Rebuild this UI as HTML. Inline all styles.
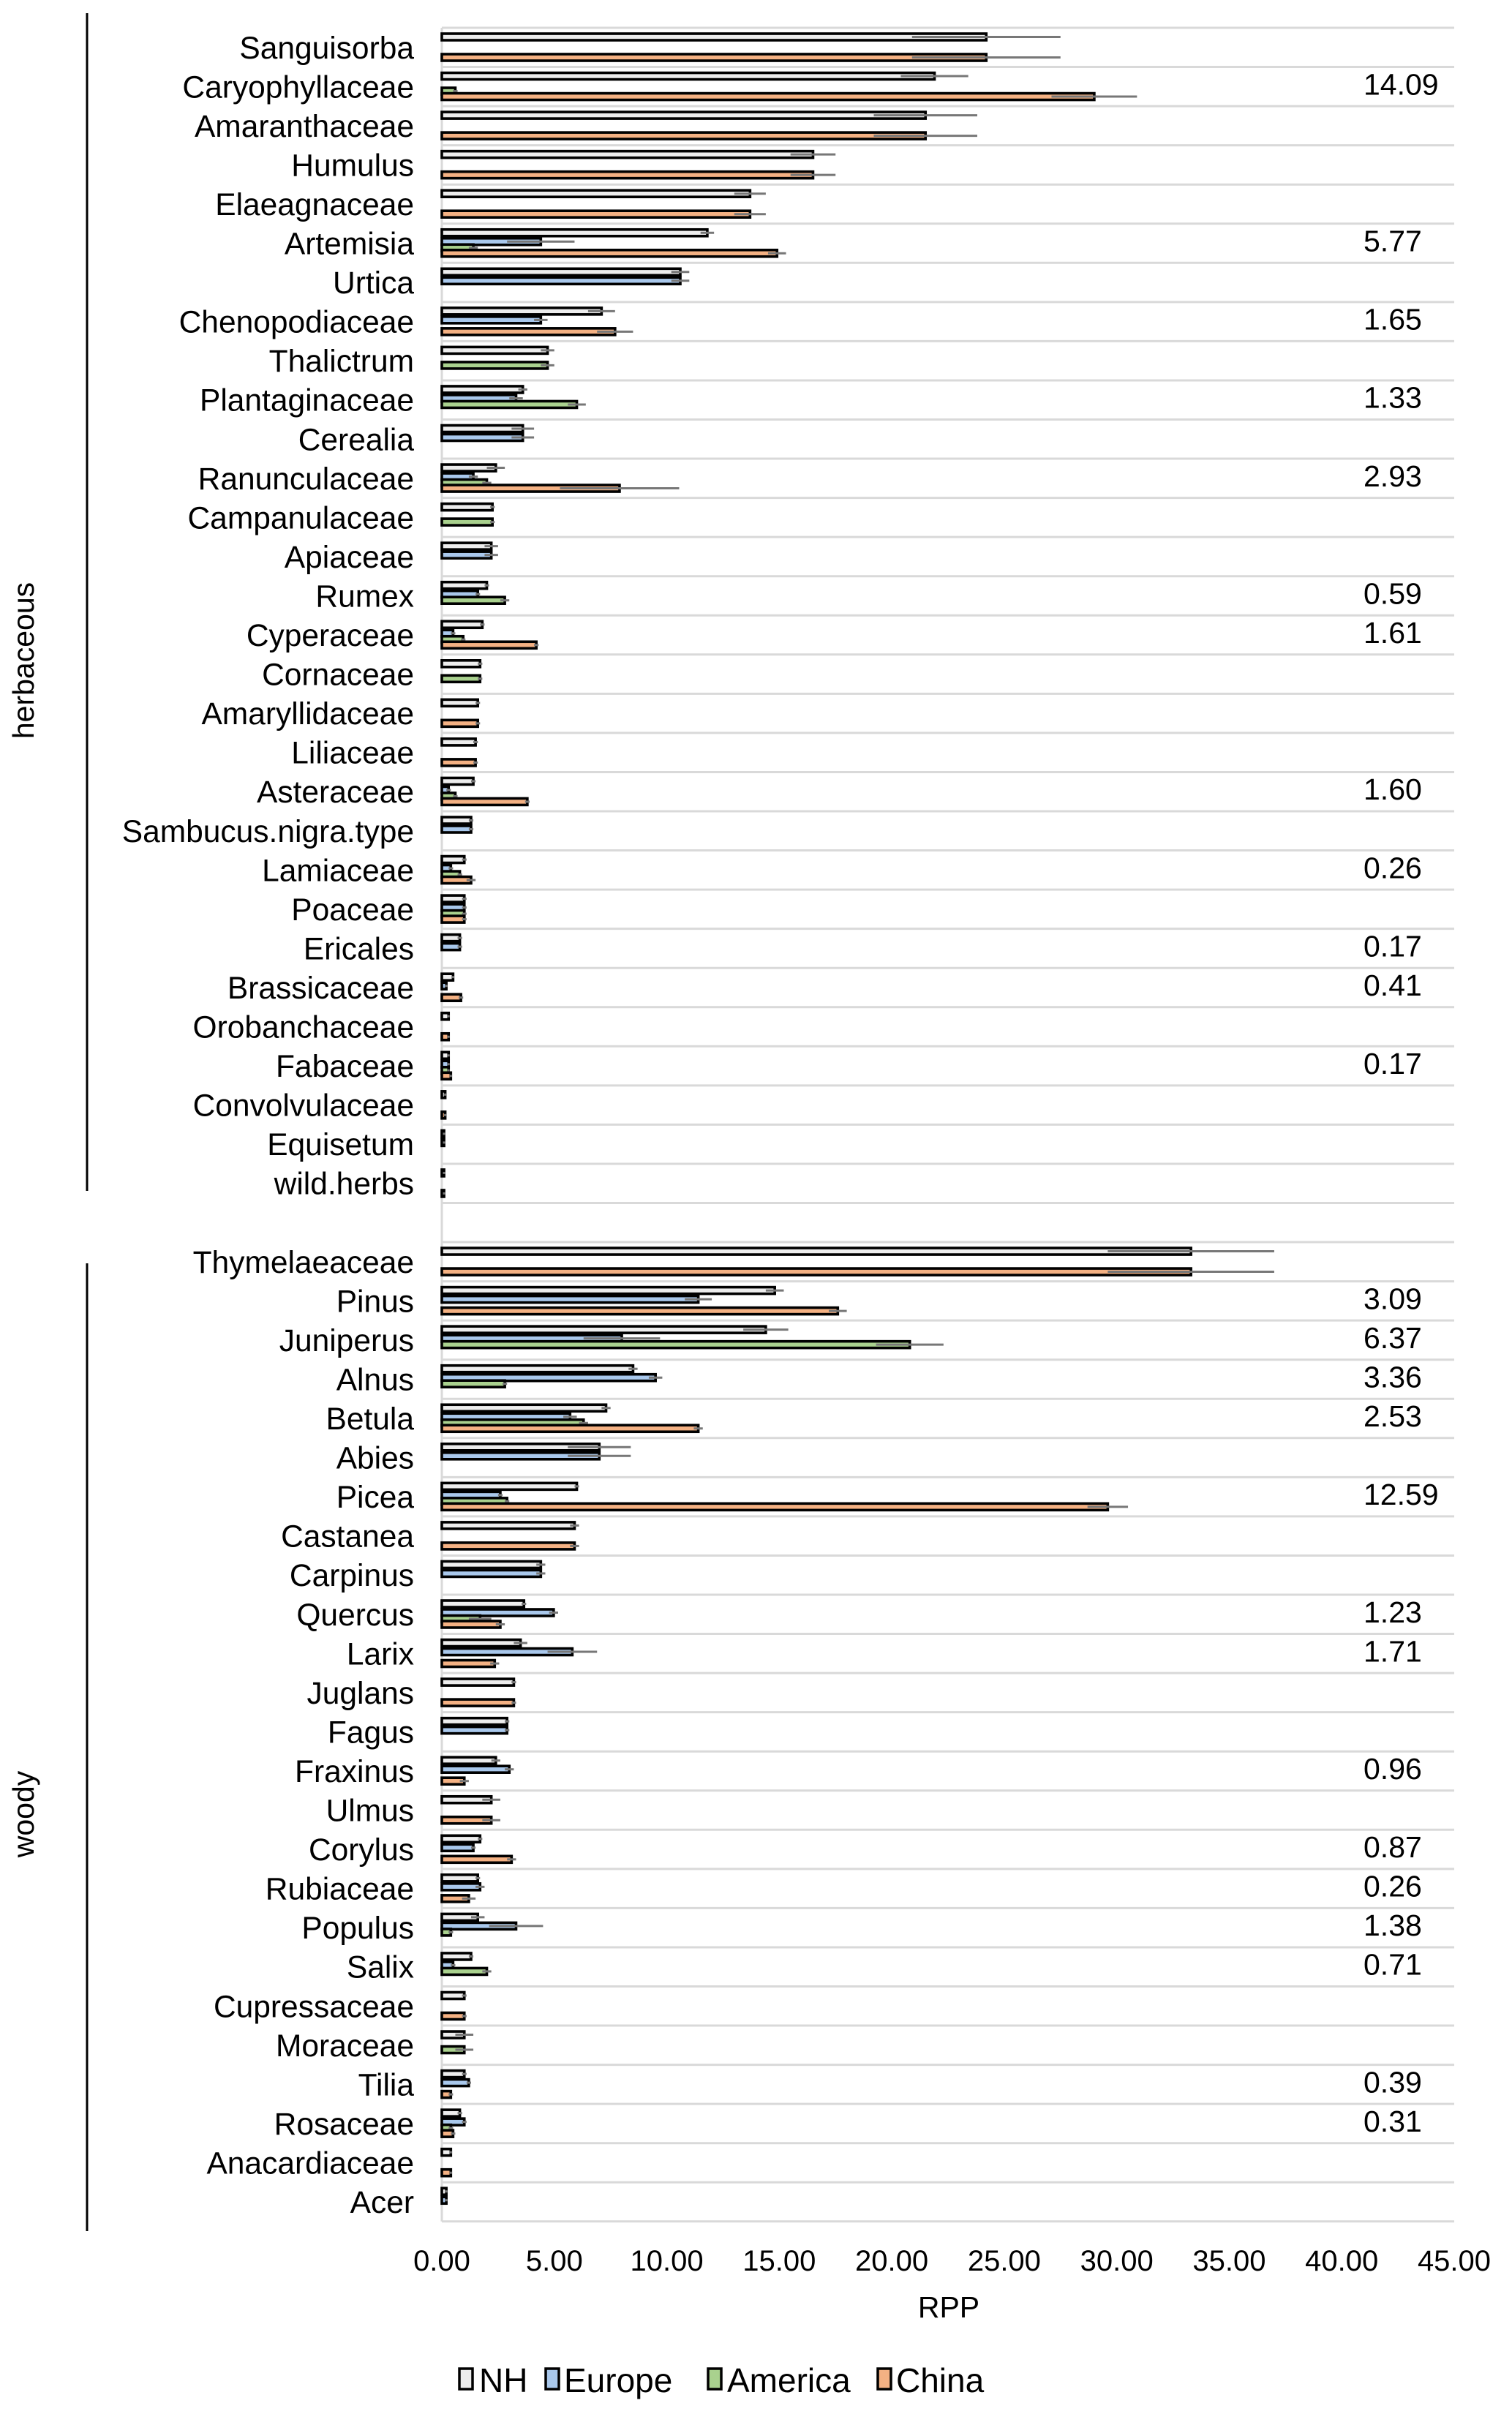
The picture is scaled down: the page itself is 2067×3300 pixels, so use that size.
<!DOCTYPE html>
<html><head><meta charset="utf-8">
<style>
html,body{margin:0;padding:0;background:#fff;}
svg{display:block;font-family:"Liberation Sans",Arial,sans-serif;}
</style></head>
<body>
<svg id="chart" width="2067" height="3300" viewBox="0 0 2067 3300" xmlns="http://www.w3.org/2000/svg"></svg>
<script>
const categories = ["Sanguisorba","Caryophyllaceae","Amaranthaceae","Humulus","Elaeagnaceae","Artemisia","Urtica","Chenopodiaceae","Thalictrum","Plantaginaceae","Cerealia","Ranunculaceae","Campanulaceae","Apiaceae","Rumex","Cyperaceae","Cornaceae","Amaryllidaceae","Liliaceae","Asteraceae","Sambucus.nigra.type","Lamiaceae","Poaceae","Ericales","Brassicaceae","Orobanchaceae","Fabaceae","Convolvulaceae","Equisetum","wild.herbs","",
"Thymelaeaceae","Pinus","Juniperus","Alnus","Betula","Abies","Picea","Castanea","Carpinus","Quercus","Larix","Juglans","Fagus","Fraxinus","Ulmus","Corylus","Rubiaceae","Populus","Salix","Cupressaceae","Moraceae","Tilia","Rosaceae","Anacardiaceae","Acer"];
const nhValues = [24.2,21.9,21.5,16.5,13.7,11.8,10.6,7.1,4.7,3.6,3.6,2.4,2.25,2.2,2.0,1.8,1.7,1.6,1.5,1.4,1.3,1.0,1.0,0.8,0.5,0.3,0.3,0.15,0.1,0.1,null,
33.3,14.8,14.4,8.5,7.3,7.0,6.0,5.9,4.4,3.65,3.5,3.2,2.9,2.4,2.2,1.7,1.6,1.6,1.3,1.0,1.0,1.0,0.8,0.4,0.2];
const europeValues = [null,null,null,null,null,4.4,10.6,4.4,null,3.3,3.6,1.4,null,2.2,1.6,0.5,null,null,null,0.3,1.3,0.4,1.0,0.8,0.2,null,0.3,null,0.1,null,null,
null,11.4,8.0,9.5,5.7,7.0,2.6,null,4.4,4.97,5.8,null,2.9,3.0,null,1.4,1.7,3.3,0.5,null,null,1.2,1.0,null,0.2];
const americaValues = [null,0.6,null,null,null,1.4,null,null,4.7,6.0,null,2.0,2.25,null,2.8,0.95,1.7,null,null,0.6,null,0.8,1.0,null,null,null,0.3,null,null,null,null,
null,null,20.8,2.8,6.3,null,2.9,null,null,1.7,null,null,null,null,null,null,null,0.4,2.0,null,1.0,null,0.4,null,null];
const chinaValues = [24.2,29.0,21.5,16.5,13.7,14.9,null,7.7,null,null,null,7.9,null,null,null,4.2,null,1.6,1.5,3.8,null,1.3,1.0,null,0.85,0.3,0.4,0.15,null,0.1,null,
33.3,17.6,null,null,11.4,null,29.6,5.9,null,2.6,2.35,3.2,null,1.0,2.2,3.1,1.2,null,null,1.0,null,0.4,0.5,0.4,null];
const nhErrors = [3.3,1.5,2.3,1.0,0.7,0.3,0.4,0.6,0.3,0.2,0.5,0.4,0.1,0.3,0.1,0.1,0.1,0.1,0.1,0.1,0.1,0.1,0.1,0.1,0.05,0.05,0.05,0.05,0.05,0.05,null,
3.7,0.4,1.0,0.2,0.2,1.4,0.1,0.2,0.2,0.1,0.3,0.1,0.1,0.2,0.4,0.1,0.1,0.3,0.1,0.1,0.4,0.1,0.1,0.05,0.05];
const europeErrors = [null,null,null,null,null,1.5,0.4,0.3,null,0.3,0.5,0.2,null,0.3,0.1,0.1,null,null,null,0.1,0.1,0.1,0.1,0.1,0.05,null,0.05,null,0.05,null,null,
null,0.6,1.7,0.3,0.3,1.4,0.1,null,0.2,0.2,1.1,null,0.1,0.2,null,0.1,0.2,1.2,0.1,null,null,0.1,0.1,null,0.05];
const americaErrors = [null,0.1,null,null,null,0.2,null,null,0.3,0.4,null,0.2,0.1,null,0.2,0.1,0.1,null,null,0.1,null,0.1,0.1,null,null,null,0.05,null,null,null,null,
null,null,1.5,0.1,0.2,null,0.1,null,null,0.5,null,null,null,null,null,null,null,0.1,0.2,null,0.4,null,0.1,null,null];
const chinaErrors = [3.3,1.9,2.3,1.0,0.7,0.4,null,0.8,null,null,null,2.65,null,null,null,0.1,null,0.1,0.1,0.1,null,0.2,0.1,null,0.1,0.05,0.05,0.05,null,0.05,null,
3.7,0.4,null,null,0.2,null,0.9,0.2,null,0.2,0.2,0.1,null,0.2,0.4,0.2,0.3,null,null,0.1,null,0.1,0.1,0.05,null];
const annotations = [null,"14.09",null,null,null,"5.77",null,"1.65",null,"1.33",null,"2.93",null,null,"0.59","1.61",null,null,null,"1.60",null,"0.26",null,"0.17","0.41",null,"0.17",null,null,null,null,
null,"3.09","6.37","3.36","2.53",null,"12.59",null,null,"1.23","1.71",null,null,"0.96",null,"0.87","0.26","1.38","0.71",null,null,"0.39","0.31",null,null];
const xTicks = [0,5,10,15,20,25,30,35,40,45];
const seriesNames = ["NH","Europe","America","China"];

const svg = document.getElementById('chart');
const NS = "http://www.w3.org/2000/svg";
const X0 = 604, X1 = 1988, XMAX = 45;
const TOP = 38, BAND = 53.55;
const xScale = v => X0 + (v / XMAX) * (X1 - X0);
const yBand = i => TOP + i * BAND;
const colors = ["#ededed","#a9c8ec","#a9d18e","#f4b183"];
const offsets = [8, 20, 28.5, 36];
const BH = 9;

function mk(tag, attrs, parent) {
  const e = document.createElementNS(NS, tag);
  for (const k in attrs) e.setAttribute(k, attrs[k]);
  (parent || svg).appendChild(e);
  return e;
}

for (let i = 0; i <= categories.length; i++) {
  const g = mk('line', {x1: X0, x2: X1, y1: yBand(i), y2: yBand(i), stroke: '#d9d9d9', 'stroke-width': 3});
  
  
}
const ax = mk('line', {x1: X0, x2: X0, y1: TOP, y2: yBand(categories.length), stroke: '#d9d9d9', 'stroke-width': 3});



const valueSets = [nhValues, europeValues, americaValues, chinaValues];
const errSets = [nhErrors, europeErrors, americaErrors, chinaErrors];

categories.forEach((c, i) => {
  const y0 = yBand(i);
  if (c) {
    const t = mk('text', {x: 566, y: y0 + BAND / 2 + 15, 'text-anchor': 'end', 'font-size': 42.5, fill: '#000'});
    t.textContent = c;
    
    
  }
  for (let s = 0; s < 4; s++) {
    const v = valueSets[s][i];
    if (v === null || v === undefined) continue;
    const y = y0 + offsets[s];
    const r = mk('rect', {x: X0, y: y, width: Math.max(xScale(v) - X0, 1.5), height: BH, fill: colors[s], stroke: '#000', 'stroke-width': 3.6});
    
    
    const e = errSets[s][i];
    if (e) {
      const el = mk('line', {x1: xScale(Math.max(v - e, 0)), x2: xScale(v + e), y1: y + BH / 2, y2: y + BH / 2, stroke: '#777', 'stroke-width': 3});
      
      
    }
  }
  if (annotations[i]) {
    const a = mk('text', {x: 1864, y: y0 + BAND / 2 + 11, 'font-size': 41, fill: '#000'});
    a.textContent = annotations[i];
    
    
  }
});

xTicks.forEach(v => {
  const t = mk('text', {x: xScale(v), y: 3104, 'text-anchor': 'middle', 'font-size': 40, fill: '#000'});
  t.textContent = v.toFixed(2);
  
  
});
</script>
<svg style="position:absolute;left:0;top:0" width="2067" height="3300">
  <text x="1297" y="3168" text-anchor="middle" font-size="41" font-family="Liberation Sans, sans-serif">RPP</text>
  <line x1="119" y1="18" x2="119" y2="1628" stroke="#000" stroke-width="3"/>
  <line x1="119" y1="1727" x2="119" y2="3050" stroke="#000" stroke-width="3"/>
  <text transform="translate(46,903) rotate(-90)" text-anchor="middle" font-size="41" font-family="Liberation Sans, sans-serif">herbaceous</text>
  <text transform="translate(46,2480) rotate(-90)" text-anchor="middle" font-size="41" font-family="Liberation Sans, sans-serif">woody</text>
  <g font-size="46" font-family="Liberation Sans, sans-serif">
    <rect x="628" y="3238" width="18" height="28" fill="#ededed" stroke="#000" stroke-width="3.5"/>
    <text x="655" y="3270">NH</text>
    <rect x="746" y="3238" width="18" height="28" fill="#a9c8ec" stroke="#000" stroke-width="3.5"/>
    <text x="771" y="3270">Europe</text>
    <rect x="968" y="3238" width="18" height="28" fill="#a9d18e" stroke="#000" stroke-width="3.5"/>
    <text x="994" y="3270">America</text>
    <rect x="1200" y="3238" width="18" height="28" fill="#f4b183" stroke="#000" stroke-width="3.5"/>
    <text x="1225" y="3270">China</text>
  </g>
</svg>
</body></html>
